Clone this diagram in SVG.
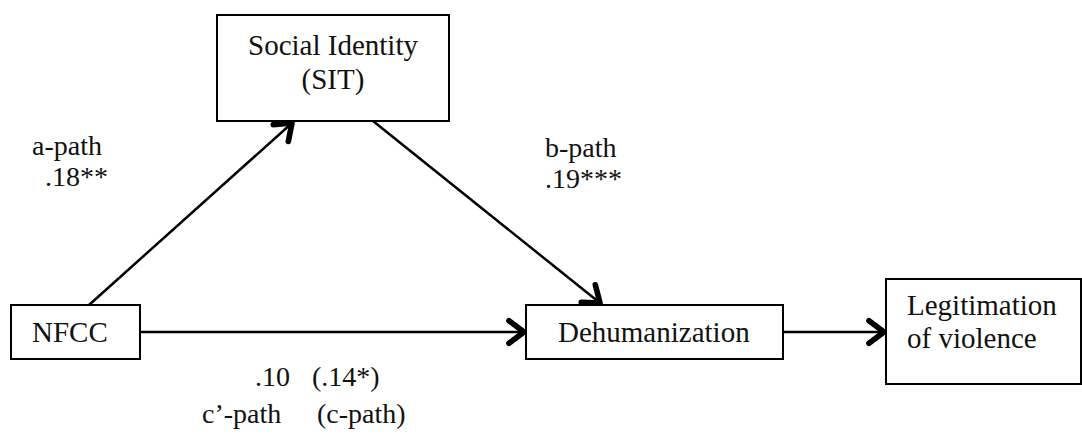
<svg xmlns="http://www.w3.org/2000/svg" width="1082" height="434" viewBox="0 0 1082 434">
<style>
.box{fill:#fff;stroke:#000;stroke-width:2}
.t{font-family:'Liberation Serif','DejaVu Serif',serif;font-size:29px;fill:#111}
.lbl{font-family:'Liberation Serif','DejaVu Serif',serif;font-size:28px;fill:#111}
.edge{stroke:#000;stroke-width:2.5;fill:none;marker-end:url(#arr)}
</style>
<defs>
<marker id="arr" markerUnits="userSpaceOnUse" markerWidth="30" markerHeight="30" viewBox="-16 -12 20 24" refX="0" refY="0" orient="auto">
<path d="M-12,-9 L0,0 L-12,9" fill="none" stroke="#000" stroke-width="4.5" stroke-linecap="round" stroke-linejoin="round"/>
</marker>
</defs>
<g id="connectors">
<line class="edge" x1="89" y1="305" x2="292" y2="123"/>
<line class="edge" x1="373" y1="121" x2="600" y2="303"/>
<line class="edge" x1="140" y1="332" x2="524" y2="332"/>
<line class="edge" x1="783" y1="332" x2="884" y2="332"/>
</g>
<g id="sit">
<rect class="box" x="217" y="15" width="232" height="106"/>
<text class="t" x="333" y="55" text-anchor="middle">Social Identity</text>
<text class="t" x="333" y="89" text-anchor="middle">(SIT)</text>
</g>
<g id="nfcc">
<rect class="box" x="11" y="305" width="129" height="54"/>
<text class="t" x="32" y="342">NFCC</text>
</g>
<g id="dehumanization">
<rect class="box" x="526" y="305" width="257" height="54"/>
<text class="t" x="558" y="342">Dehumanization</text>
</g>
<g id="legitimation">
<rect class="box" x="886" y="279" width="195" height="105"/>
<text class="t" x="907" y="315">Legitimation</text>
<text class="t" x="907" y="348">of violence</text>
</g>
<g id="labels">
<text class="lbl" x="32" y="155">a-path</text>
<text class="lbl" x="45" y="186">.18**</text>
<text class="lbl" x="545" y="157">b-path</text>
<text class="lbl" x="545" y="188">.19***</text>
<text class="lbl" x="255" y="386">.10</text>
<text class="lbl" x="312" y="386">(.14*)</text>
<text class="lbl" x="202" y="423">c’-path</text>
<text class="lbl" x="317" y="423">(c-path)</text>
</g>
</svg>
